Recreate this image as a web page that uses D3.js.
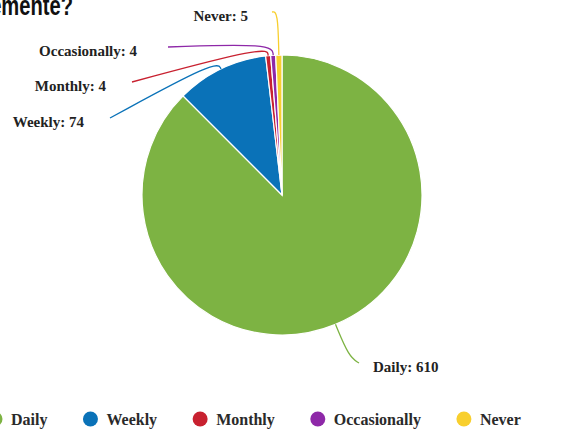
<!DOCTYPE html>
<html>
<head>
<meta charset="utf-8">
<script src="https://cdn.jsdelivr.net/npm/d3@7/dist/d3.min.js"></script>
<style>
  html, body { margin: 0; padding: 0; background: #fff; }
  svg { display: block; }
</style>
</head>
<body>
<svg id="chart" width="575" height="432"></svg>
<script>
// ---- data ----
const categories = ["Daily", "Weekly", "Monthly", "Occasionally", "Never"];
const counts = [610, 74, 4, 4, 5];
const colors = ["#7db343", "#0a72b8", "#c82130", "#8e28a8", "#f8cf2e"];
const titleText = "Com que frequência você usa frequentemente?";

// ---- layout constants (not data) ----
const W = 575, H = 432;
const cx = 282, cy = 195, R = 140;
// leader-line: radial extension length, label end point, anchor
const labelLayout = [
  { len: 35, end: [359, 363], tx: 373, ty: 372, anchor: "start" },
  { len: 10, end: [110, 118], tx: 84, ty: 127, anchor: "end" },
  { len: 10, end: [132, 82], tx: 106, ty: 91, anchor: "end" },
  { len: 12, end: [168, 47], tx: 137, ty: 56, anchor: "end" },
  { len: 44, end: [272, 12], tx: 248, ty: 21, anchor: "end" }
];

const svg = d3.select("#chart");

// cut-off title fragment at top-left
svg.append("text")
  .attr("transform", "translate(73,15) scale(0.72,1)")
  .attr("text-anchor", "end")
  .attr("font-family", "Liberation Sans, Arial, sans-serif")
  .attr("font-weight", "bold")
  .attr("font-size", 28)
  .attr("fill", "#111")
  .text(titleText);

const data = categories.map((c, i) => ({ name: c, value: counts[i], color: colors[i], lay: labelLayout[i] }));

const pie = d3.pie().sort(null).value(d => d.value).startAngle(0).endAngle(2 * Math.PI);
const arcs = pie(data);
const arc = d3.arc().innerRadius(0).outerRadius(R);

const g = svg.append("g").attr("transform", `translate(${cx},${cy})`);

g.selectAll("path.slice")
  .data(arcs)
  .join("path")
  .attr("class", "slice")
  .attr("d", arc)
  .attr("fill", d => d.data.color)
  .attr("stroke", "#fff")
  .attr("stroke-width", 1.2);

// leader lines
const line = d3.line().curve(d3.curveBasis);
arcs.forEach(d => {
  const a = (d.startAngle + d.endAngle) / 2;
  const p0 = [cx + R * Math.sin(a), cy - R * Math.cos(a)];
  const r1 = R + d.data.lay.len;
  const p1 = [cx + r1 * Math.sin(a), cy - r1 * Math.cos(a)];
  const p2 = d.data.lay.end;
  svg.append("path")
    .attr("d", line([p0, p0, p1, p2, p2]))
    .attr("fill", "none")
    .attr("stroke", d.data.color)
    .attr("stroke-width", 1.3);
  svg.append("text")
    .attr("x", d.data.lay.tx).attr("y", d.data.lay.ty)
    .attr("text-anchor", d.data.lay.anchor)
    .attr("font-family", "Liberation Serif, Times New Roman, serif")
    .attr("font-weight", "bold")
    .attr("font-size", 15)
    .attr("fill", "#222")
    .text(`${d.data.name}: ${d.data.value}`);
});

// legend
const legend = svg.append("g");
let cursor = -12.5;
const ly = 419;
data.forEach(d => {
  legend.append("circle")
    .attr("cx", cursor + 7.5).attr("cy", ly).attr("r", 7.5)
    .attr("fill", d.color);
  const t = legend.append("text")
    .attr("x", cursor + 23.5).attr("y", ly + 5.5)
    .attr("font-family", "Liberation Serif, Times New Roman, serif")
    .attr("font-weight", "bold")
    .attr("font-size", 16)
    .attr("fill", "#2a2a2a")
    .text(d.name);
  cursor += 23.5 + t.node().getComputedTextLength() + 35.5;
});
</script>
</body>
</html>
